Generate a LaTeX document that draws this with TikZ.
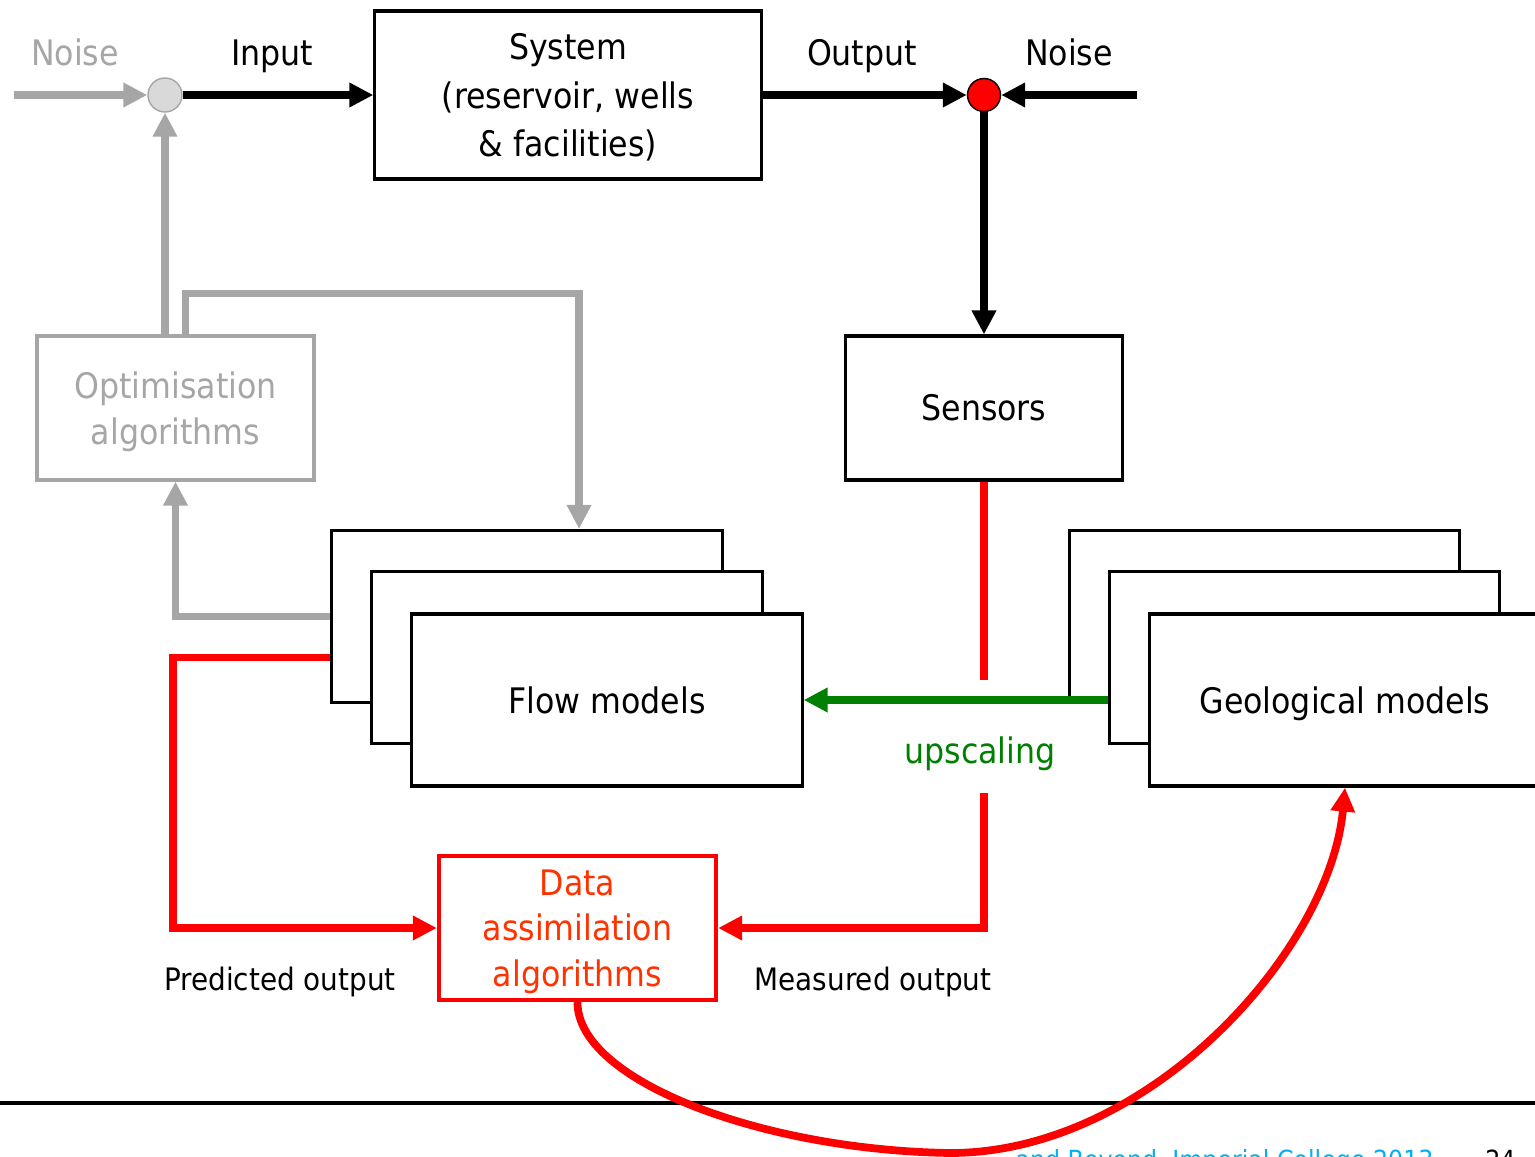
\documentclass[tikz,border=0pt]{standalone}
\usepackage{fontspec}
\setmainfont{DejaVu Sans Condensed}
\usetikzlibrary{arrows.meta}

\begin{document}
\begin{tikzpicture}[x=0.01cm, y=-0.01cm,
  card/.style = {draw, line width=0.9pt, fill=white, minimum width=3.9cm, minimum height=1.72cm},
  blk/.style = {draw, line width=0.9pt, minimum width=2.77cm, minimum height=1.44cm, align=center},
  txt/.style = {font=\fontsize{10}{12.9}\selectfont},
  small/.style = {font=\fontsize{8.8}{11}\selectfont},
  tip/.style = {-{Triangle[length=6.8pt,width=6.6pt]}},
  wire/.style = {line width=2.2pt}]
  \useasboundingbox (0,0) rectangle (1535,1157);

  \definecolor{optgray}{RGB}{166,166,166}
  \definecolor{sumgray}{RGB}{217,217,217}
  \definecolor{upgreen}{RGB}{0,128,0}
  \definecolor{dared}{RGB}{255,51,0}
  \definecolor{footcyan}{RGB}{0,176,240}

  % top row
  \node[blk, txt, minimum width=3.86cm, minimum height=1.68cm, text depth=0pt,
        font=\fontsize{10}{13.7}\selectfont] (sys) at (568,95) {System\\(reservoir, wells\\\& facilities)};
  \node[circle, draw=optgray, fill=sumgray, minimum size=0.34cm, inner sep=0pt] (gsum) at (165,95) {};
  \node[circle, draw, fill=red, minimum size=0.33cm, inner sep=0pt] (rsum) at (984,95) {};
  \coordinate (nzL) at (14,95);
  \coordinate (nzR) at (1137,95);

  \node[txt, text=optgray, anchor=base] (noiseL) at (75,65) {Noise};
  \node[txt, anchor=base] (inL) at (272,65) {Input};
  \node[txt, anchor=base] (outL) at (862,65) {Output};
  \node[txt, anchor=base] (noiseR) at (1069,65) {Noise};

  % sensors and optimisation
  \node[blk, txt] (sens) at (984,408) {Sensors};
  \node[blk, txt, text depth=0pt, draw=optgray, text=optgray] (opt) at (175.5,408) {Optimisation\\algorithms};

  % model stacks
  \foreach \n [count=\i from 0] in {flowA,flowB}
    \node[card] (\n) at (527+40*\i, 616.5+41*\i) {};
  \node[card, txt] (flowC) at (607,700) {Flow models};
  \foreach \n [count=\i from 0] in {geoA,geoB}
    \node[card] (\n) at (1264.5+40*\i, 616.5+41*\i) {};
  \node[card, txt, text depth=0pt] (geoC) at (1345,700) {Geological models};

  \node[blk, txt, text depth=0pt, draw=red, line width=1.2pt, text=dared] (data) at (577.5,928) {Data\\assimilation\\algorithms};

  % signal path
  \draw[wire, optgray, tip] (nzL) -- (gsum);
  \draw[wire, tip] (gsum) -- (sys);
  \draw[wire, tip] (sys) -- (rsum);
  \draw[wire, tip] (nzR) -- (rsum);
  \draw[wire, tip] (rsum) -- (sens);

  % optimisation loop
  \draw[wire, optgray, tip] (gsum |- opt.north) -- (gsum);
  \draw[wire, optgray, tip] ([xshift=0.1cm]opt.north) -- ++(0,-41) -| ([xshift=0.52cm]flowA.north);
  \draw[wire, optgray, tip] (flowA.west) -| (opt.south);

  % assimilation loop
  \coordinate (gapT) at (984,680);
  \coordinate (gapB) at (984,793);
  \draw[wire, red, tip] (flowA.west |- flowB) -- ++(-157,0) |- (data.west);
  \draw[wire, red] (sens) -- (gapT);
  \draw[wire, red, tip] (gapB) |- (data.east);
  \draw[wire, upgreen, tip] (geoB.west |- flowC.east) -- (flowC.east);
  \node[txt, text=upgreen, anchor=base] (upsc) at (980,763) {upscaling};

  \node[small, anchor=base] (pred) at (280,990) {Predicted output};
  \node[small, anchor=base] (meas) at (873,990) {Measured output};

  % footer
  \draw[line width=0.9pt] (0,1103) -- (1535,1103);
  \node[font=\fontsize{7.5}{9}\selectfont, text=footcyan, anchor=base east] (foot) at (1446,1169) {and Beyond, Imperial College 2013};
  \node[font=\fontsize{7.5}{9}\selectfont, anchor=base east] (page) at (1528,1169) {24};

  \draw[wire, red, tip] (data.south) .. controls (577,1080) and (760,1150) .. (950,1153)
    .. controls (1150,1153) and (1330,950) .. (geoC.south);
\end{tikzpicture}
\end{document}
